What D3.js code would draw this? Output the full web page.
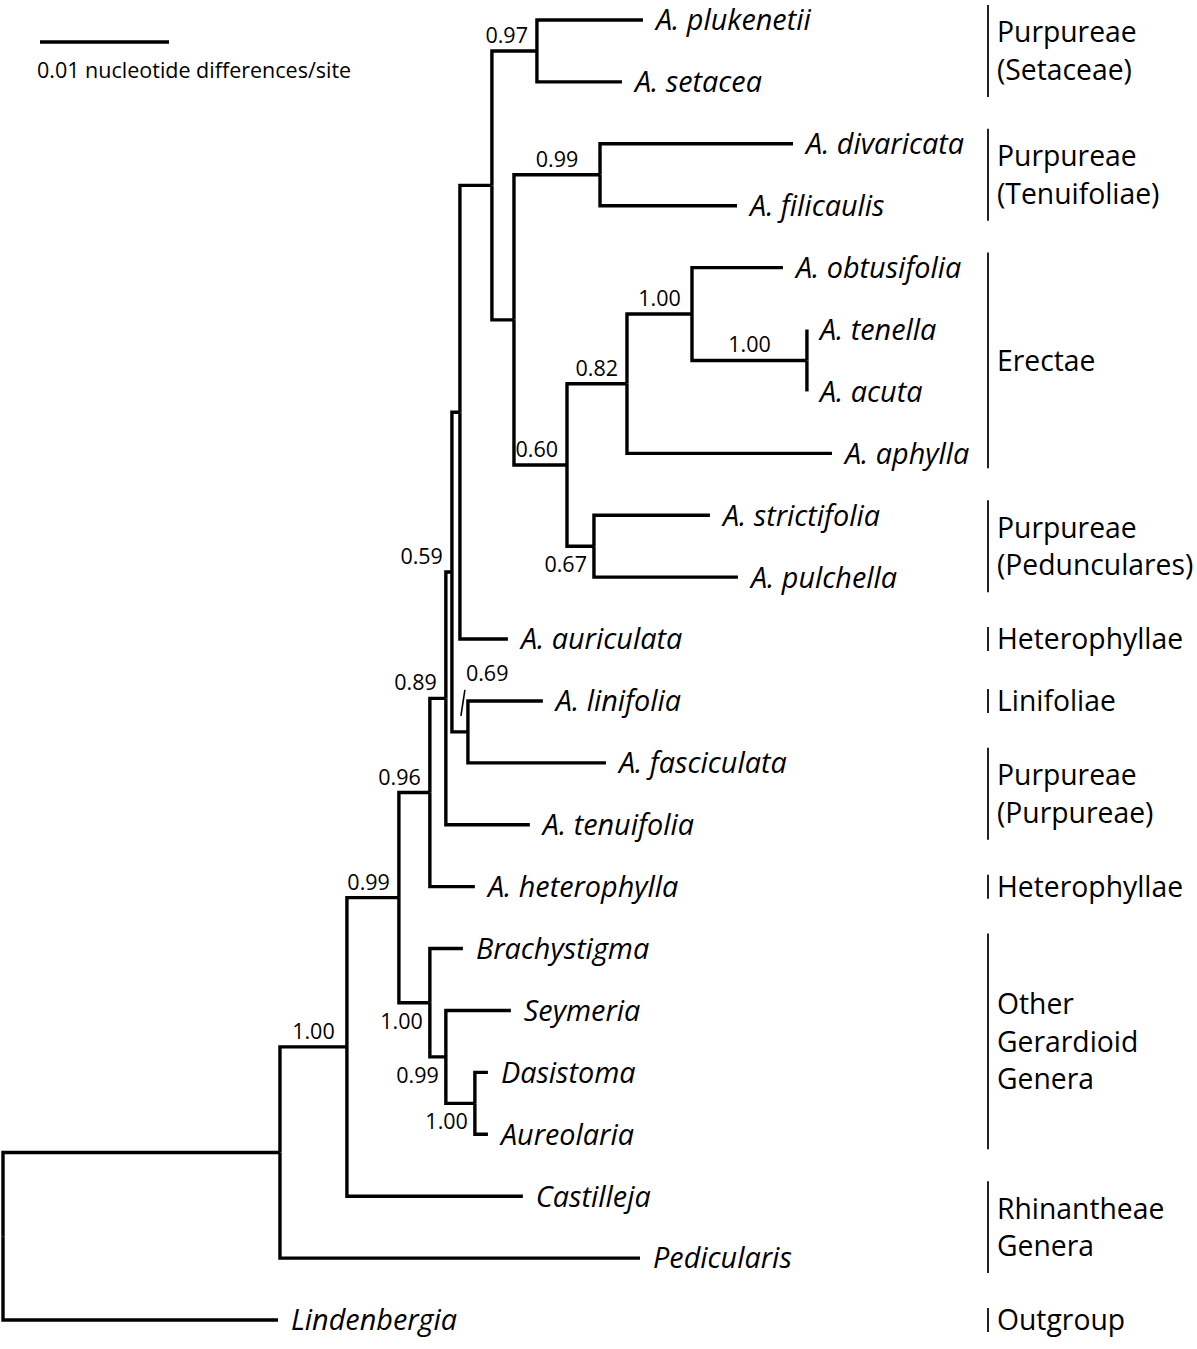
<!DOCTYPE html>
<html><head><meta charset="utf-8">
<script src="https://cdn.jsdelivr.net/npm/d3@7"></script>
<style>body{margin:0;background:#fff}</style>
</head><body>
<script>
// ---------- DATA ----------
const nodeIds = ["root","nA","nB","nC","nD","nE","nF","nG","nI","nJ","A. plukenetii","A. setacea","nK","nL","A. divaricata","A. filicaulis","nM","nN","nP","A. obtusifolia","nQ","A. tenella","A. acuta","A. aphylla","nO","A. strictifolia","A. pulchella","A. auriculata","nH","A. linifolia","A. fasciculata","A. tenuifolia","A. heterophylla","nR","Brachystigma","nS","Seymeria","nT","Dasistoma","Aureolaria","Castilleja","Pedicularis","Lindenbergia"];
const parentIds = ["","root","nA","nB","nC","nD","nE","nF","nG","nI","nJ","nJ","nI","nK","nL","nL","nK","nM","nN","nP","nP","nQ","nQ","nN","nM","nO","nO","nG","nF","nH","nH","nE","nD","nC","nR","nR","nS","nS","nT","nT","nB","nA","root"];
// branch lengths (nucleotide differences / site)
const branchLengths = [0,0.02147,0.00519,0.00403,0.00240,0.00124,0.00047,0.00062,0.00248,0.00349,0.00822,0.00659,0.00171,0.00667,0.01496,0.01062,0.00411,0.00465,0.00504,0.00705,0.00891,0,0,0.01589,0.00209,0.00899,0.01116,0.00372,0.00124,0.00581,0.01070,0.00651,0.00349,0.00240,0.00256,0.00124,0.00504,0.00225,0.00101,0.00101,0.01364,0.02791,0.02132];
// posterior support values
const supportValues = [null,null,"1.00","0.99","0.96","0.89","0.59",null,null,"0.97",null,null,null,"0.99",null,null,"0.60","0.82","1.00",null,"1.00",null,null,null,"0.67",null,null,null,"0.69",null,null,null,null,"1.00",null,"0.99",null,"1.00",null,null,null,null,null];
// taxonomic groups
const groupLines = [["Purpureae","(Setaceae)"],["Purpureae","(Tenuifoliae)"],["Erectae"],["Purpureae","(Pedunculares)"],["Heterophyllae"],["Linifoliae"],["Purpureae","(Purpureae)"],["Heterophyllae"],["Other","Gerardioid","Genera"],["Rhinantheae","Genera"],["Outgroup"]];
const groupFirst = ["A. plukenetii","A. divaricata","A. obtusifolia","A. strictifolia","A. auriculata","A. linifolia","A. fasciculata","A. heterophylla","Brachystigma","Castilleja","Lindenbergia"];
const groupLast  = ["A. setacea","A. filicaulis","A. aphylla","A. pulchella","A. auriculata","A. linifolia","A. tenuifolia","A. heterophylla","Aureolaria","Pedicularis","Lindenbergia"];
const scaleBarValue = 0.01;
const scaleBarLabel = "0.01 nucleotide differences/site";

// ---------- LAYOUT ----------
const W = 1197, H = 1349;
const FONT = "'Open Sans', 'Noto Sans', sans-serif";
const belowLabels = new Set(["nO","nR","nS","nT"]);
const leaderLabels = new Set(["nH"]);

const table = nodeIds.map((id,i)=>({id, parent: parentIds[i]||null, len: branchLengths[i], support: supportValues[i]}));
const root = d3.stratify().id(d=>d.id).parentId(d=>d.parent)(table);

root.eachBefore(n=>{ n.dist = n.parent ? n.parent.dist + n.data.len : 0; });
const leaves = root.leaves();
const y = d3.scaleLinear().domain([0, leaves.length-1]).range([20, 1320]);
const x = d3.scaleLinear().domain([0, 0.01]).range([3, 132]);
leaves.forEach((l,i)=>{ l.y = y(i); });
root.eachAfter(n=>{ if(n.children){ n.y = (n.children[0].y + n.children[n.children.length-1].y)/2; } });
root.each(n=>{ n.x = x(n.dist); });

const svg = d3.select("body").append("svg").attr("width",W).attr("height",H)
  .style("font-family",FONT);

// branches
const g = svg.append("g").attr("fill","none").attr("stroke","#000").attr("stroke-width",3.4)
  .attr("stroke-linejoin","miter");
g.selectAll("path.branch").data(root.descendants().filter(d=>d.parent)).join("path")
  .attr("class","branch")
  .attr("d", d=>`M${d.parent.x},${d.parent.y}V${d.y}H${d.x}`);

// tip labels
svg.append("g").selectAll("text").data(leaves).join("text")
  .attr("x", d=>d.x + 13).attr("y", d=>d.y).attr("dy","0.36em")
  .attr("font-size",28.8).attr("font-style","italic")
  .text(d=>d.id);

// support values
const sg = svg.append("g").attr("font-size",21.5);
root.descendants().filter(d=>d.data.support).forEach(d=>{
  const t = sg.append("text").text(d.data.support);
  const w = t.node().getComputedTextLength();
  if(leaderLabels.has(d.id)){
    t.attr("x", d.x - 2).attr("y", d.y - 51);
    sg.append("line").attr("x1",d.x-3).attr("y1",d.y-42).attr("x2",d.x-7).attr("y2",d.y-16)
      .attr("stroke","#000").attr("stroke-width",1.6);
  } else if(belowLabels.has(d.id)){
    t.attr("text-anchor","end").attr("x", d.x - 7).attr("y", d.y + 26);
  } else {
    const mid = (d.parent.x + d.x)/2;
    const right = Math.min(mid + w/2, d.x - 9);
    t.attr("text-anchor","end").attr("x", right).attr("y", d.y - 8);
  }
});

// group brackets
const byId = new Map(leaves.map(l=>[l.id,l]));
const gg = svg.append("g");
groupLines.forEach((lines,i)=>{
  const a = byId.get(groupFirst[i]).y, b = byId.get(groupLast[i]).y;
  const pad = a===b ? 12 : 15;
  gg.append("line").attr("x1",988).attr("x2",988).attr("y1",a-pad).attr("y2",b+pad)
    .attr("stroke","#222").attr("stroke-width",2);
  const mid = (a+b)/2, lh = 37.5;
  lines.forEach((s,j)=>{
    gg.append("text").attr("x",997).attr("y", mid + (j-(lines.length-1)/2)*lh).attr("dy","0.36em")
      .attr("font-size",28.3).text(s);
  });
});

// scale bar
const sb = svg.append("g");
sb.append("line").attr("x1",40).attr("x2",40 + x(scaleBarValue) - x(0)).attr("y1",42).attr("y2",42)
  .attr("stroke","#000").attr("stroke-width",3.4);
sb.append("text").attr("x",37).attr("y",70).attr("dy","0.36em").attr("font-size",21.5).text(scaleBarLabel);
</script>
</body></html>
